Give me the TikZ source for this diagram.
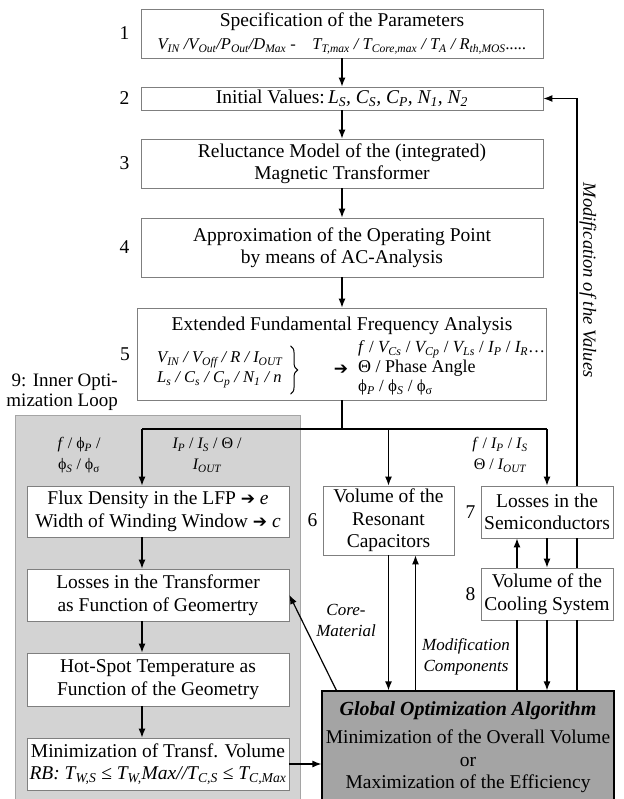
\documentclass[tikz,border=0pt]{standalone}
\usepackage{fontspec}
\setmainfont{Liberation Serif}
\newfontfamily\symb{DejaVu Sans}
\usetikzlibrary{positioning,arrows.meta,decorations.pathreplacing}
\definecolor{loopgray}{HTML}{D3D3D3}
\definecolor{globgray}{HTML}{A4A4A4}
\definecolor{boxline}{HTML}{7F7F7F}
\newcommand\sub[2]{#1\textsubscript{#2}}
\newcommand\formula{\fontsize{16.5}{20}\selectfont\itshape}
\newcommand\toarr{{\symb\bfseries\fontsize{17}{17}\selectfont ➔}}

\begin{document}
\begin{tikzpicture}[x=1pt,y=-1pt,
		box/.style={draw=boxline,line width=0.8pt,fill=white,align=center,inner sep=0pt,font=\fontsize{19.5}{22.5}\selectfont},
		num/.style={inner sep=0pt,font=\fontsize{19.5}{22}\selectfont},
		lbl/.style={inner sep=0pt,align=center,font=\fontsize{16}{21}\selectfont},
		note/.style={inner sep=0pt,align=center,font=\fontsize{17}{21}\selectfont\itshape},
		line/.style={line width=1.2pt},
		arr/.style={line,-{Latex[length=9pt,width=7pt]}}]
	\useasboundingbox (0,0) rectangle (623,799);
	\clip (0,0) rectangle (623,799);

	% inner optimization loop
	\draw[fill=loopgray,draw=boxline!70] (15,415) rectangle (300,803);
	\node[inner sep=0pt,align=right,anchor=east,font=\fontsize{19}{20}\selectfont] (inner) at (118,392) {9: Inner Opti-\\mization Loop};

	\node[box,minimum width=402,minimum height=49] (b1) at (342,33.5) {Specification of the Parameters\\
		{\formula \sub{V}{IN} /\sub{V}{Out}/\sub{P}{Out}/\sub{D}{Max} -\quad \sub{T}{T,max} / \sub{T}{Core,max} / \sub{T}{A} / \sub{R}{th,MOS}.....}};
	\node[box,minimum width=402,minimum height=23] (b2) at (342,98.5) {Initial Values:\,{\itshape \sub{L}{S}, \sub{C}{S}, \sub{C}{P}, \sub{N}{1}, \sub{N}{2}}};
	\node[box,minimum width=402,minimum height=49] (b3) at (342,163.5) {Reluctance Model of the (integrated)\\Magnetic Transformer};
	\node[box,minimum width=402,minimum height=59] (b4) at (342,247.5) {Approximation of the Operating Point\\by means of AC-Analysis};

	% extended fundamental frequency analysis
	\node[box,minimum width=409,minimum height=92] (b5) at (342,354) {};
	\node[box,draw=none,fill=none] (b5t) at (342,326) {Extended Fundamental Frequency Analysis};
	\node[inner sep=0pt,anchor=west,font=\formula,align=left] (b5in) at (157,370) {\sub{V}{IN} / \sub{V}{Off} / R / \sub{I}{OUT}\\ \sub{L}{s} / \sub{C}{s} / \sub{C}{p} / \sub{N}{1} / n};
	\draw[line width=1pt,decorate,decoration={brace,amplitude=7pt}]
		([xshift=8pt,yshift=6pt]b5in.north east) -- ([xshift=8pt,yshift=-6pt]b5in.south east);
	\node[inner sep=0pt] (b5ar) at (341,370) {\toarr};
	\node[inner sep=0pt,anchor=west,align=left,font=\fontsize{17}{19.5}\selectfont] (b5out) at (358,368) {\textit{f} / \textit{\sub{V}{Cs}} / \textit{\sub{V}{Cp}} / \textit{\sub{V}{Ls}} / \textit{\sub{I}{P}} / \textit{\sub{I}{R}}\dots\\
		{\fontsize{18}{19.5}\selectfont Θ / Phase Angle}\\ \sub{ϕ}{\textit{P}} / \sub{ϕ}{\textit{S}} / \sub{ϕ}{σ}};

	\node[box,minimum width=262,minimum height=51] (flux) at (158,511.5) {Flux Density in the LFP \toarr\ \textit{e}\\Width of Winding Window \toarr\ \textit{c}};
	\node[box,minimum width=262,minimum height=52] (loss) at (158,595) {Losses in the Transformer\\as Function of Geomertry};
	\node[box,minimum width=262,minimum height=53] (hot) at (158,679.5) {Hot-Spot Temperature as\\Function of the Geometry};
	\node[box,minimum width=262,minimum height=52] (mini) at (158,764) {Minimization of Transf. Volume\\
		{\itshape RB: \sub{T}{W,S} \textup{≤} \sub{T}{W,}Max//\sub{T}{C,S} \textup{≤} \sub{T}{C,Max}}};

	\node[box,minimum width=131,minimum height=69] (b6) at (388.5,520.5) {Volume of the\\Resonant\\Capacitors};
	\node[box,minimum width=132,minimum height=52] (b7) at (547,512) {Losses in the\\Semiconductors};
	\node[box,minimum width=132,minimum height=52] (b8) at (547,594) {Volume of the\\Cooling System};
	\node[box,draw=black,line width=1.2pt,fill=globgray,minimum width=292,minimum height=112] (glob) at (468,747) {%
		{\fontsize{20}{22}\selectfont\bfseries\itshape Global Optimization Algorithm}\\[6pt]
		Minimization of the Overall Volume\\ or\\ Maximization of the Efficiency};

	\foreach \b/\n/\g in {b1/1/11,b2/2/11,b3/3/11,b4/4/11,b5/5/7,b6/6/5,b7/7/5,b8/8/5}
		\node[num,left=\g pt of \b] (n\n) {\n};

	% what goes into the boxes
	\node[lbl] (in1) at (79,455) {\textit{f} / \sub{ϕ}{\textit{P}} /\\ \sub{ϕ}{\textit{S}} / \sub{ϕ}{σ}};
	\node[lbl] (in2) at (207,455) {\textit{\sub{I}{P}} / \textit{\sub{I}{S}} / Θ /\\ \textit{\sub{I}{OUT}}};
	\node[lbl] (in3) at (500,455) {\textit{f} / \textit{\sub{I}{P}} / \textit{\sub{I}{S}}\\ Θ / \textit{\sub{I}{OUT}}};
	\node[note] (core) at (346,620) {Core-\\Material};
	\node[note] (modc) at (466,657) {Modification\\Components};
	\node[note,rotate=-90,font=\fontsize{18.5}{20}\selectfont\itshape] (modv) at (588,280) {Modification of the Values};

	\coordinate (split) at (342,429);
	\coordinate (lft) at (142,429);

	\foreach \a/\b in {b1/b2,b2/b3,b3/b4,b4/b5}
		\draw[arr] (\a) -- (\b);
	\draw[line] (b5) -- (split);
	\draw[line] (lft) -- (b7.north |- split);
	\draw[arr] (lft) -- (lft |- flux.north);
	\draw[arr] (b6.north |- split) -- (b6);
	\draw[arr] (b7.north |- split) -- (b7);
	\foreach \a/\b in {flux/loss,loss/hot,hot/mini}
		\draw[arr] (lft |- \a.south) -- (lft |- \b.north);
	\draw[arr] (mini) -- (mini -| glob.west);
	\draw[arr] ([xshift=15pt]glob.north west) -- (loss.east);
	\draw[arr] (b6) -- (b6 |- glob.north);
	\draw[arr] ([xshift=27pt]b6.south |- glob.north) -- ([xshift=27pt]b6.south);
	\draw[arr] (b7) -- (b8);
	\draw[arr] (b8) -- (b8 |- glob.north);
	\draw[arr] ([xshift=-30pt]b8.north) -- ([xshift=-30pt]b7.south);
	\draw[line] ([xshift=-30pt]b8.south) -- ([xshift=-30pt]b8.south |- glob.north);
	% modification of the values
	\draw[line] ([xshift=30pt]b8.south |- glob.north) -- ([xshift=30pt]b8.south);
	\draw[line] ([xshift=30pt]b8.north) -- ([xshift=30pt]b7.south);
	\draw[arr] ([xshift=30pt]b7.north) |- (b2);
\end{tikzpicture}
\end{document}
